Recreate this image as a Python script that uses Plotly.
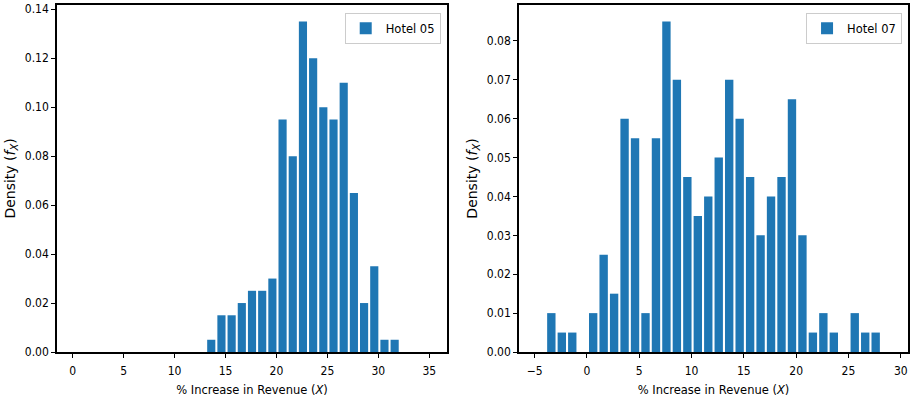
import plotly.graph_objects as go

# ---- data ----
hotel05_x = [0.6, 1.6, 2.6, 3.6, 4.6, 5.6, 6.6, 7.6, 8.6, 9.6, 10.6, 11.6, 12.6,
             13.6, 14.6, 15.6, 16.6, 17.6, 18.6, 19.6, 20.6, 21.6, 22.6, 23.6,
             24.6, 25.6, 26.6, 27.6, 28.6, 29.6, 30.6, 31.6, 32.6, 33.6, 34.6]
hotel05_y = [0, 0, 0, 0, 0, 0, 0, 0, 0, 0, 0, 0, 0,
             0.005, 0.015, 0.015, 0.02, 0.025, 0.025, 0.03, 0.095, 0.08, 0.135, 0.12,
             0.10, 0.095, 0.11, 0.065, 0.02, 0.035, 0.005, 0.005, 0, 0, 0]

hotel07_x = [-4.4, -3.4, -2.4, -1.4, -0.4, 0.6, 1.6, 2.6, 3.6, 4.6, 5.6, 6.6,
             7.6, 8.6, 9.6, 10.6, 11.6, 12.6, 13.6, 14.6, 15.6, 16.6, 17.6,
             18.6, 19.6, 20.6, 21.6, 22.6, 23.6, 24.6, 25.6, 26.6, 27.6, 28.6]
hotel07_y = [0, 0.01, 0.005, 0.005, 0, 0.01, 0.025, 0.015, 0.06, 0.055, 0.01, 0.055,
             0.085, 0.07, 0.045, 0.035, 0.04, 0.05, 0.07, 0.06, 0.045, 0.03, 0.04,
             0.045, 0.065, 0.03, 0.005, 0.01, 0.005, 0, 0.01, 0.005, 0.005, 0]

left_xticks = [0, 5, 10, 15, 20, 25, 30, 35]
left_yticks = [0.00, 0.02, 0.04, 0.06, 0.08, 0.10, 0.12, 0.14]
right_xticks = [-5, 0, 5, 10, 15, 20, 25, 30]
right_yticks = [0.00, 0.01, 0.02, 0.03, 0.04, 0.05, 0.06, 0.07, 0.08]

BAR_W = 0.8
COLOR = "#1f77b4"
FONT = "DejaVu Sans Condensed, DejaVu Sans, sans-serif"
TITLE_FONT = "DejaVu Sans, sans-serif"


def mpl_range(xs, w):
    lo = min(xs) - w / 2
    hi = max(xs) + w / 2
    m = 0.05 * (hi - lo)
    return [lo - m, hi + m]


fig = go.Figure()
fig.add_trace(go.Bar(x=hotel05_x, y=hotel05_y, width=[BAR_W] * len(hotel05_x),
                     marker=dict(color=COLOR, line=dict(width=0)),
                     name="Hotel 05", xaxis="x", yaxis="y", legend="legend",
                     showlegend=True))
fig.add_trace(go.Bar(x=hotel07_x, y=hotel07_y, width=[BAR_W] * len(hotel07_x),
                     marker=dict(color=COLOR, line=dict(width=0)),
                     name="Hotel 07", xaxis="x2", yaxis="y2", legend="legend2",
                     showlegend=True))

axis_common = dict(showline=True, linecolor="black", linewidth=1.5, mirror=True,
                   ticks="outside", ticklen=4, tickwidth=1.3, tickcolor="black",
                   showgrid=False, zeroline=False, automargin=False,
                   tickfont=dict(family=FONT, size=12, color="black"))

xtitle = dict(text="% Increase in Revenue (<i>X</i>)",
              font=dict(family=TITLE_FONT, size=11.5, color="black"), standoff=9)
ytitle = dict(text="Density (<i>f</i><sub><i>X</i></sub>)",
              font=dict(family=TITLE_FONT, size=14, color="black"), standoff=6)

legend_common = dict(xanchor="right", yanchor="top",
                     bgcolor="rgba(255,255,255,0.8)", bordercolor="#cccccc",
                     borderwidth=1,
                     font=dict(family=TITLE_FONT, size=11.5, color="black"))

fig.update_layout(
    width=917, height=403,
    margin=dict(l=57, r=9, t=5, b=51, autoexpand=False),
    paper_bgcolor="white", plot_bgcolor="white",
    barmode="overlay", showlegend=True,
    xaxis=dict(domain=[0, 0.4583], range=mpl_range(hotel05_x, BAR_W),
               tickvals=left_xticks, ticktext=[str(v) for v in left_xticks],
               ticklabelstandoff=3,
               title=xtitle, anchor="y", **axis_common),
    yaxis=dict(domain=[0, 1], range=[0, max(hotel05_y) * 1.05],
               tickvals=left_yticks, ticktext=[f"{v:.2f}" for v in left_yticks],
               title=ytitle, anchor="x", **axis_common),
    xaxis2=dict(domain=[0.5429, 1], range=mpl_range(hotel07_x, BAR_W),
                tickvals=right_xticks,
                ticktext=[("\u2212" + str(-v)) if v < 0 else str(v) for v in right_xticks],
                ticklabelstandoff=3,
                title=xtitle, anchor="y2", **axis_common),
    yaxis2=dict(domain=[0, 1], range=[0, max(hotel07_y) * 1.05],
                tickvals=right_yticks, ticktext=[f"{v:.2f}" for v in right_yticks],
                title=ytitle, anchor="x2", **axis_common),
    legend=dict(x=0.4509, y=0.978, **legend_common),
    legend2=dict(x=0.993, y=0.978, **legend_common),
)

fig.write_html("out.html", config={"displayModeBar": False},
               post_script="document.body.style.margin='0';")
